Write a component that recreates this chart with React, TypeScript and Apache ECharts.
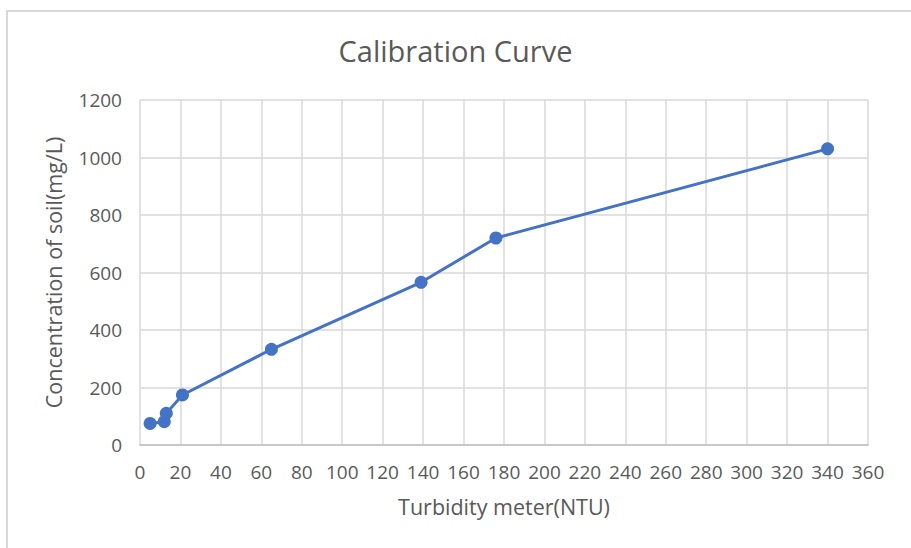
import React, { useEffect, useRef } from "react";
import * as echarts from "echarts";

const turbidity = [5, 12, 13, 21, 65, 139, 176, 340];
const concentration = [75, 81, 110, 174, 333, 566, 720, 1030];
const titleText = "Calibration Curve";
const xName = "Turbidity meter(NTU)";
const yName = "Concentration of soil(mg/L)";

export default function App() {
  const ref = useRef<HTMLDivElement>(null);
  useEffect(() => {
    const chart = echarts.init(ref.current!, undefined, { renderer: "svg" });
    const font = "'Open Sans', sans-serif";
    const textColor = "#595959";
    chart.setOption({
      animation: false,
      backgroundColor: "#ffffff",
      textStyle: { fontFamily: font },
      graphic: [
        {
          type: "rect",
          shape: { x: 7, y: 11, width: 1000, height: 1000 },
          style: { fill: "none", stroke: "#d9d9d9", lineWidth: 2 },
          silent: true,
        },
      ],
      title: {
        text: titleText,
        left: "center",
        top: 31,
        textStyle: { color: textColor, fontSize: 29, fontWeight: "normal", fontFamily: font },
      },
      grid: { left: 140, right: 43, top: 100, bottom: 103, containLabel: false },
      xAxis: {
        type: "value",
        min: 0,
        max: 360,
        interval: 20,
        name: xName,
        nameLocation: "middle",
        nameGap: 50,
        nameTextStyle: { color: textColor, fontSize: 21.5, fontFamily: font },
        axisLine: { show: true, lineStyle: { color: "#bfbfbf", width: 1.5 } },
        axisTick: { show: false },
        axisLabel: { color: textColor, fontSize: 19, margin: 17, fontFamily: font, formatter: (v: number) => String(v) },
        splitLine: { show: true, lineStyle: { color: "#d9d9d9", width: 1.5 } },
      },
      yAxis: {
        type: "value",
        min: 0,
        max: 1200,
        interval: 200,
        name: yName,
        nameLocation: "middle",
        nameGap: 76,
        nameTextStyle: { color: textColor, fontSize: 21.5, fontFamily: font },
        axisLine: { show: false },
        axisTick: { show: false },
        axisLabel: { color: textColor, fontSize: 19, margin: 18, fontFamily: font, formatter: (v: number) => String(v) },
        splitLine: { show: true, lineStyle: { color: "#d9d9d9", width: 1.5 } },
      },
      series: [
        {
          type: "line",
          data: turbidity.map((x, i) => [x, concentration[i]]),
          symbol: "circle",
          symbolSize: 13,
          itemStyle: { color: "#4472C4" },
          lineStyle: { color: "#4472C4", width: 3 },
        },
      ],
    });
    return () => chart.dispose();
  }, []);
  return <div ref={ref} style={{ width: 911, height: 548, position: "absolute", left: 0, top: 0 }} />;
}
